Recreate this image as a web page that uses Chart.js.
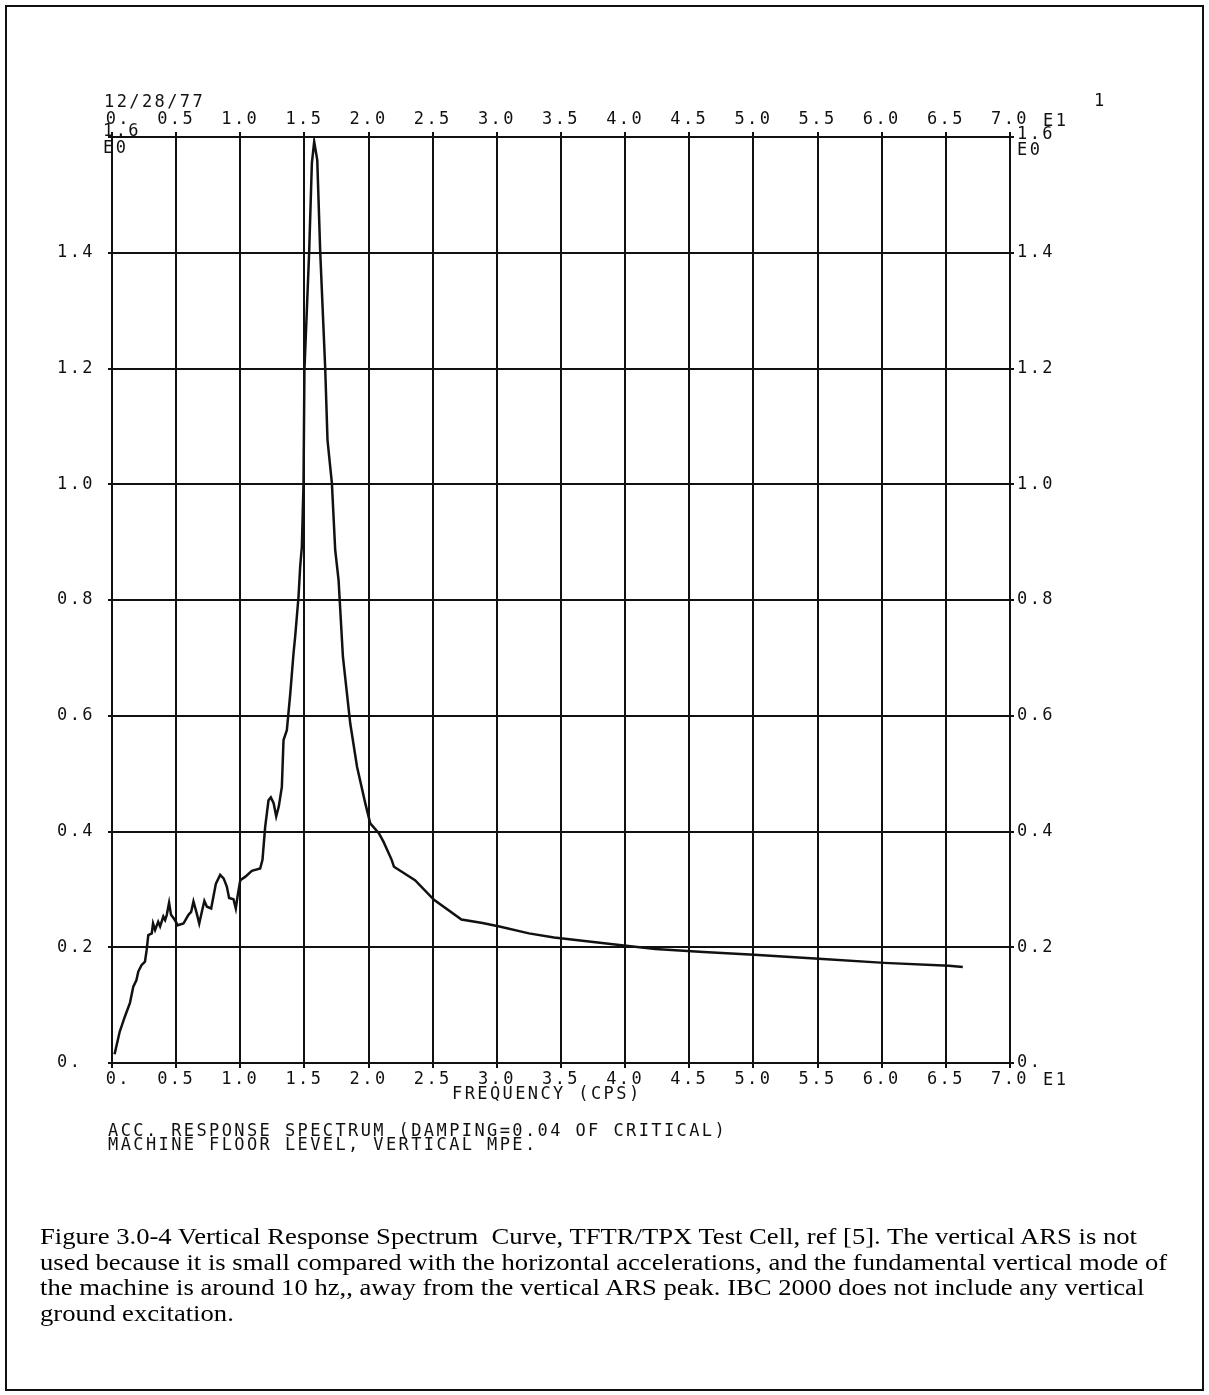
<!DOCTYPE html>
<html>
<head>
<meta charset="utf-8">
<script src="https://cdn.jsdelivr.net/npm/chart.js@4.4.1/dist/chart.umd.min.js"></script>
<style>
  html, body { margin: 0; padding: 0; background: #fff; }
  #page { position: relative; width: 1209px; height: 1395px; overflow: hidden; background: #fff; }
  #frame { position: absolute; left: 5px; top: 5px; width: 1195px; height: 1382px; border: 2px solid #111; }
  #chart { position: absolute; left: 0; top: 0; }
  .plt { position: absolute; font-family: "DejaVu Sans Mono", monospace; font-size: 17px; letter-spacing: 2.4px;
         color: #111; white-space: pre; line-height: 13px; }
  #caption { position: absolute; left: 40px; top: 1224px; font-family: "Liberation Serif", "Times New Roman", serif;
             font-size: 24px; line-height: 25.5px; color: #000; white-space: nowrap; transform-origin: 0 0; }
</style>
</head>
<body>
<div id="page">
  <div id="frame"></div>
  <canvas id="chart" width="1209" height="1395"></canvas>
  <div class="plt" style="left:104px;top:95px;">12/28/77</div>
  <div class="plt" style="left:1094px;top:94px;">1</div>
  <div class="plt" style="left:1043px;top:114px;">E1</div>
  <div class="plt" style="left:1043px;top:1073px;">E1</div>
  <div class="plt" style="left:103px;top:124px;">1.6</div>
  <div class="plt" style="left:103px;top:141px;">E0</div>
  <div class="plt" style="left:1017px;top:127px;">1.6</div>
  <div class="plt" style="left:1017px;top:143px;">E0</div>
  <div class="plt" style="left:452px;top:1087px;">FREQUENCY (CPS)</div>
  <div class="plt" style="left:108px;top:1124px;line-height:13.5px;">ACC. RESPONSE SPECTRUM (DAMPING=0.04 OF CRITICAL)<br>MACHINE FLOOR LEVEL, VERTICAL MPE.</div>
  <div id="caption"><span id="capLine1">Figure 3.0-4 Vertical Response Spectrum&nbsp; Curve, TFTR/TPX Test Cell, ref [5]. The vertical ARS is not</span><br>used because it is small compared with the horizontal accelerations, and the fundamental vertical mode of<br>the machine is around 10 hz,, away from the vertical ARS peak. IBC 2000 does not include any vertical<br>ground excitation.</div>
</div>
<script>
// Frequency (CPS, x10) and spectral acceleration (g) along the response spectrum curve
const freq = [
  0.02, 0.06, 0.10, 0.14, 0.166, 0.19, 0.205, 0.23, 0.257, 0.27, 0.283, 0.31, 0.32, 0.336, 0.36, 0.375,
  0.40, 0.414, 0.427, 0.445, 0.46, 0.49, 0.513, 0.557, 0.596, 0.617, 0.635, 0.66, 0.68, 0.70, 0.72, 0.74,
  0.773, 0.79, 0.81, 0.843, 0.87, 0.895, 0.913, 0.947, 0.965, 0.98, 1.0, 1.04, 1.09, 1.155, 1.173, 1.194,
  1.22, 1.238, 1.26, 1.28, 1.30, 1.324, 1.337, 1.363, 1.39, 1.415, 1.428, 1.454, 1.467, 1.48, 1.493, 1.50,
  1.537, 1.558, 1.576, 1.60, 1.623, 1.662, 1.68, 1.714, 1.74, 1.766, 1.80, 1.857, 1.91, 1.974, 2.013, 2.08,
  2.117, 2.18, 2.198, 2.362, 2.51, 2.724, 2.888, 3.02, 3.25, 3.446, 3.99, 4.235, 4.612, 5.006, 5.51, 6.02,
  6.524, 6.632
];
const accel = [
  0.015, 0.054, 0.080, 0.104, 0.132, 0.143, 0.158, 0.169, 0.175, 0.195, 0.221, 0.224, 0.241, 0.230, 0.244, 0.236,
  0.253, 0.247, 0.256, 0.277, 0.256, 0.247, 0.238, 0.241, 0.256, 0.261, 0.279, 0.259, 0.241, 0.261, 0.280, 0.270,
  0.267, 0.287, 0.310, 0.325, 0.319, 0.305, 0.285, 0.283, 0.267, 0.290, 0.316, 0.322, 0.332, 0.336, 0.351, 0.408,
  0.454, 0.459, 0.449, 0.426, 0.443, 0.477, 0.558, 0.575, 0.639, 0.708, 0.737, 0.806, 0.858, 0.892, 1.002, 1.197,
  1.402, 1.555, 1.592, 1.560, 1.402, 1.200, 1.076, 1.002, 0.886, 0.835, 0.702, 0.587, 0.512, 0.449, 0.414, 0.397,
  0.382, 0.351, 0.339, 0.316, 0.282, 0.248, 0.242, 0.236, 0.224, 0.217, 0.203, 0.197, 0.192, 0.187, 0.180, 0.173,
  0.168, 0.166
];
// Axis tick labels as printed by the plotter
const xTickLabels = [' 0.', '0.5', '1.0', '1.5', '2.0', '2.5', '3.0', '3.5', '4.0', '4.5', '5.0', '5.5', '6.0', '6.5', '7.0'];
const yTickLabels = ['0.', '0.2', '0.4', '0.6', '0.8', '1.0', '1.2', '1.4', ''];

const INK = '#111';
const plotFont = { family: '"DejaVu Sans Mono", monospace', size: 17 };

const spacing = {
  id: 'plotterSpacing',
  beforeDraw(chart) { chart.ctx.letterSpacing = '2.4px'; }
};

function xAxis(position, onArea, height) {
  return {
    type: 'linear', position, min: 0, max: 7,
    ticks: { stepSize: 0.5, color: INK, font: plotFont, padding: position === 'top' ? 2 : 1, maxRotation: 0, autoSkip: false,
             callback: (v, i) => xTickLabels[i] },
    grid: { color: INK, lineWidth: 2, drawOnChartArea: onArea, tickLength: 5, tickColor: INK },
    border: { color: INK, width: 2 },
    afterFit: s => { s.height = height; }
  };
}
function yAxis(position, onArea, width) {
  return {
    type: 'linear', position, min: 0, max: 1.6,
    ticks: { stepSize: 0.2, color: INK, font: plotFont, padding: 3, crossAlign: position === 'left' ? 'far' : 'near',
             callback: (v, i) => yTickLabels[i] },
    grid: { color: INK, lineWidth: 2, drawOnChartArea: onArea, tickLength: 4, tickColor: INK },
    border: { color: INK, width: 2 },
    afterFit: s => { s.width = width; }
  };
}

new Chart(document.getElementById('chart'), {
  type: 'line',
  data: {
    datasets: [{
      data: freq.map((f, i) => ({ x: f, y: accel[i] })),
      borderColor: INK, borderWidth: 2.5, pointRadius: 0, tension: 0, fill: false
    }]
  },
  options: {
    responsive: false, animation: false, devicePixelRatio: 1,
    layout: { padding: { left: 57, right: 100, top: 90, bottom: 300 } },
    plugins: { legend: { display: false }, tooltip: { enabled: false } },
    scales: {
      x: xAxis('bottom', true, 32),
      x2: xAxis('top', false, 47),
      y: yAxis('left', true, 55),
      y2: yAxis('right', false, 99)
    }
  },
  plugins: [spacing]
});

// Stretch the caption so its first line spans the typeset width
const cap = document.getElementById('caption');
const w1 = document.getElementById('capLine1').getBoundingClientRect().width;
cap.style.transform = 'scaleX(' + (1097 / w1).toFixed(4) + ')';
</script>
</body>
</html>
